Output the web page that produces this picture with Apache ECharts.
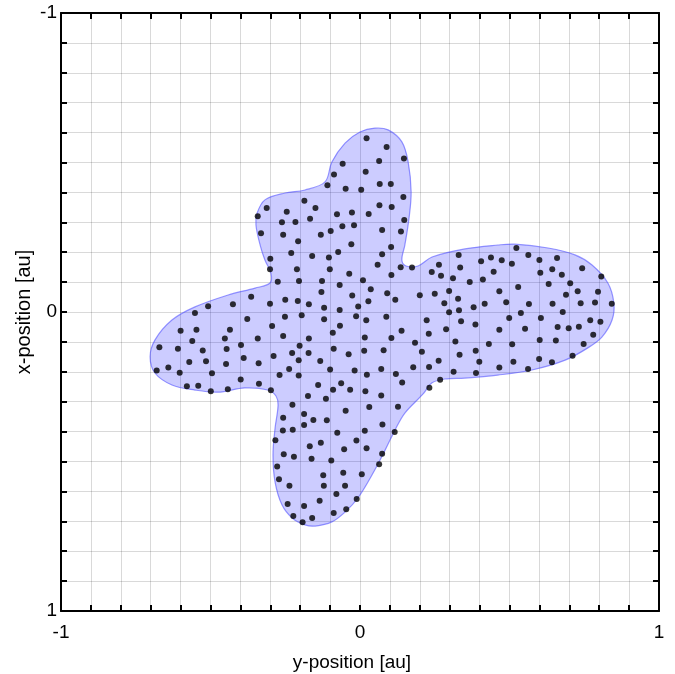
<!DOCTYPE html>
<html>
<head>
<meta charset="utf-8">
<script src="https://cdn.jsdelivr.net/npm/echarts@6/dist/echarts.min.js"></script>
<style>
html,body{margin:0;padding:0;background:#fff;}
#chart{width:675px;height:674px;}
</style>
</head>
<body>
<div id="chart"></div>
<script>
// Tick labels shown on the axes
const xTickLabels = [-1, 0, 1];
const yTickLabels = [-1, 0, 1];

// Region boundary (data units): horizontal value (y-position), vertical value (x-position)
const blobH = [0.050,0.094,0.140,0.161,0.171,0.164,0.150,0.140,0.154,0.194,0.241,0.351,0.461,0.518,0.629,0.719,0.776,0.829,0.849,0.843,0.809,0.762,0.686,0.575,0.461,0.351,0.284,0.241,0.211,0.150,0.117,0.084,0.040,-0.007,-0.050,-0.094,-0.150,-0.184,-0.227,-0.261,-0.284,-0.291,-0.284,-0.274,-0.281,-0.308,-0.385,-0.475,-0.552,-0.629,-0.686,-0.702,-0.686,-0.629,-0.552,-0.441,-0.351,-0.301,-0.298,-0.318,-0.334,-0.348,-0.344,-0.318,-0.251,-0.184,-0.117,-0.094,-0.050,0.000];
const blobV = [-0.615,-0.609,-0.569,-0.502,-0.401,-0.314,-0.224,-0.174,-0.154,-0.154,-0.184,-0.211,-0.224,-0.227,-0.214,-0.191,-0.157,-0.097,-0.030,0.027,0.084,0.120,0.161,0.194,0.211,0.221,0.224,0.237,0.274,0.338,0.395,0.462,0.545,0.622,0.669,0.702,0.716,0.712,0.689,0.645,0.569,0.478,0.388,0.311,0.281,0.261,0.254,0.268,0.261,0.244,0.204,0.150,0.094,0.027,-0.017,-0.057,-0.080,-0.097,-0.130,-0.174,-0.224,-0.291,-0.331,-0.375,-0.398,-0.408,-0.435,-0.502,-0.565,-0.602];

// Sample points (data units)
const ptsH = [-0.186,-0.312,-0.342,-0.245,-0.261,-0.216,-0.331,-0.257,-0.207,-0.230,-0.300,
0.022,0.089,0.147,0.064,-0.058,0.019,-0.087,-0.109,-0.048,0.004,0.066,0.103,0.145,-0.149,0.065,0.106,-0.077,-0.027,0.029,-0.167,0.148,-0.059,-0.020,-0.131,-0.098,0.074,0.137,-0.029,0.104,-0.160,-0.104,-0.073,0.074,0.330,
0.523,0.438,0.474,0.405,0.563,0.600,0.659,0.508,
0.059,0.136,0.174,0.264,0.335,-0.101,-0.036,0.105,0.240,0.271,0.311,-0.127,-0.068,0.010,0.036,-0.129,-0.026,0.091,0.200,0.250,0.298,-0.171,0.028,0.118,0.328,-0.120,-0.006,0.282,-0.068,0.331,0.298,-0.120,-0.013,0.021,0.088,0.223,0.338,-0.067,-0.091,0.139,0.230,0.288,-0.171,0.016,0.105,0.184,0.319,-0.088,-0.172,-0.038,0.014,0.079,0.207,0.333,-0.133,0.263,-0.100,-0.018,0.071,0.178,0.231,0.313,0.023,0.120,0.268,-0.140,-0.063,0.141,-0.090,-0.033,0.018,0.232,0.071,-0.174,-0.114,
-0.048,0.031,0.127,-0.187,-0.156,-0.111,-0.187,0.075,-0.076,0.016,0.116,-0.012,-0.168,-0.131,-0.053,0.022,0.074,-0.162,-0.096,0.064,-0.123,-0.056,0.006,-0.121,-0.050,-0.079,-0.187,-0.135,-0.011,-0.088,-0.046,-0.160,
-0.226,-0.257,-0.258,-0.225,-0.283,-0.255,-0.221,-0.277,-0.271,-0.236,-0.242,-0.223,-0.192,
-0.301,-0.211,-0.275,-0.204,-0.364,-0.425,-0.508,-0.301,-0.250,-0.208,-0.552,-0.377,-0.251,-0.195,-0.294,-0.600,-0.547,-0.435,-0.257,-0.452,-0.342,-0.561,-0.671,-0.609,-0.526,-0.446,-0.398,-0.202,-0.227,-0.289,-0.389,-0.571,-0.515,-0.448,-0.339,-0.205,-0.680,-0.641,-0.603,-0.495,-0.237,-0.269,-0.205,-0.399,-0.579,-0.541,-0.338,-0.499,-0.442,-0.298,
0.743,0.447,0.603,0.643,0.675,0.807,0.367,0.411,0.529,0.631,0.703,0.466,0.689,0.728,0.796,0.380,0.417,0.489,0.565,0.644,0.738,0.786,0.842,0.538,0.678,0.499,0.605,0.770,0.804,0.386,0.466,0.552,0.661,0.698,0.732,0.780,0.431,0.509,0.601,0.655,0.748,0.387,0.399,0.513,0.599,0.642,0.711,0.466,0.562,0.388];
const ptsV = [-0.372,-0.348,-0.320,-0.335,-0.300,-0.301,-0.263,-0.258,-0.237,-0.197,-0.178,
-0.581,-0.552,-0.513,-0.505,-0.496,-0.469,-0.460,-0.424,-0.412,-0.409,-0.428,-0.428,-0.385,-0.348,-0.357,-0.351,-0.327,-0.333,-0.328,-0.312,-0.308,-0.287,-0.290,-0.258,-0.271,-0.274,-0.269,-0.227,-0.217,-0.187,-0.182,-0.201,-0.193,-0.191,
-0.214,-0.182,-0.173,-0.170,-0.191,-0.174,-0.181,-0.161,
-0.158,-0.150,-0.149,-0.158,-0.149,-0.143,-0.128,-0.124,-0.134,-0.121,-0.113,-0.104,-0.090,-0.106,-0.076,-0.067,-0.055,-0.063,-0.056,-0.061,-0.070,-0.026,-0.036,-0.041,-0.044,-0.014,-0.018,-0.029,-0.007,-0.006,0.001,0.024,0.014,0.028,0.016,0.028,0.031,0.046,0.069,0.063,0.073,0.058,0.089,0.085,0.087,0.103,0.099,0.123,0.137,0.141,0.130,0.128,0.133,0.143,0.164,0.163,0.192,0.196,0.191,0.185,0.184,0.200,0.210,0.207,0.227,0.244,0.238,0.236,0.260,0.260,0.265,0.253,0.279,0.281,0.290,
0.330,0.318,0.317,0.341,0.361,0.362,0.378,0.376,0.404,0.397,0.401,0.430,0.449,0.437,0.459,0.456,0.474,0.491,0.497,0.509,0.546,0.538,0.543,0.581,0.581,0.609,0.649,0.631,0.625,0.672,0.660,0.689,
0.310,0.354,0.396,0.394,0.429,0.476,0.484,0.517,0.559,0.581,0.642,0.682,0.703,
-0.143,-0.143,-0.101,-0.104,-0.051,-0.026,-0.019,-0.028,-0.041,-0.037,0.003,0.023,0.016,0.011,0.047,0.063,0.059,0.059,0.080,0.089,0.089,0.097,0.118,0.123,0.129,0.124,0.110,0.113,0.137,0.147,0.154,0.167,0.165,0.174,0.171,0.161,0.196,0.186,0.203,0.205,0.191,0.211,0.212,0.226,0.248,0.247,0.240,0.265,0.258,0.262,
-0.146,-0.135,-0.131,-0.143,-0.125,-0.119,-0.100,-0.109,-0.084,-0.094,-0.096,-0.069,-0.058,-0.069,-0.068,-0.016,-0.028,-0.033,-0.027,-0.028,-0.029,-0.032,-0.028,0.003,0.000,0.020,0.020,0.028,0.033,0.042,0.059,0.056,0.050,0.054,0.049,0.076,0.107,0.108,0.094,0.095,0.107,0.130,0.166,0.166,0.157,0.168,0.146,0.186,0.191,0.204];

const FONT = 'Liberation Sans, Arial, sans-serif';
function labelFmt(ticks) {
  return function (v) {
    for (const t of ticks) { if (Math.abs(v - t) < 1e-6) return String(t); }
    return '';
  };
}
const axisLineStyle = { show: true, onZero: false, lineStyle: { color: '#000', width: 2 } };
const tickStyle = { show: true, inside: true, length: 6, lineStyle: { color: '#000', width: 2 } };
const gridLine = { show: true, lineStyle: { color: 'rgba(0,0,0,0.15)', width: 1 } };

const chart = echarts.init(document.getElementById('chart'), null, { renderer: 'canvas' });
chart.setOption({
  animation: false,
  backgroundColor: '#fff',
  grid: { left: 61, top: 13, width: 598, height: 598, containLabel: false, outerBoundsMode: 'none' },
  xAxis: [
    { type: 'value', min: -1, max: 1, interval: 0.1, position: 'bottom',
      axisLine: axisLineStyle, axisTick: tickStyle, splitLine: gridLine,
      axisLabel: { formatter: labelFmt(xTickLabels), fontSize: 19, color: '#000', margin: 12, fontFamily: FONT },
      name: 'y-position [au]', nameLocation: 'middle', nameGap: 42, nameMoveOverlap: false,
      nameTextStyle: { fontSize: 19, color: '#000', fontFamily: FONT, padding: [0, 16, 0, 0] } },
    { type: 'value', min: -1, max: 1, interval: 0.1, position: 'top',
      axisLine: axisLineStyle, axisTick: tickStyle, splitLine: { show: false }, axisLabel: { show: false } }
  ],
  yAxis: [
    { type: 'value', min: -1, max: 1, interval: 0.1, inverse: true, position: 'left',
      axisLine: axisLineStyle, axisTick: tickStyle, splitLine: gridLine,
      axisLabel: { formatter: labelFmt(yTickLabels), fontSize: 19, color: '#000', margin: 4, fontFamily: FONT },
      name: 'x-position [au]', nameLocation: 'middle', nameGap: 27, nameRotate: 90, nameMoveOverlap: false,
      nameTextStyle: { fontSize: 20, color: '#000', fontFamily: FONT } },
    { type: 'value', min: -1, max: 1, interval: 0.1, inverse: true, position: 'right',
      axisLine: axisLineStyle, axisTick: tickStyle, splitLine: { show: false }, axisLabel: { show: false } }
  ],
  series: [
    { type: 'custom', xAxisIndex: 0, yAxisIndex: 0, data: [[0, 0]], silent: true, z: 2,
      renderItem: function (params, api) {
        const pts = blobH.map((h, i) => api.coord([h, blobV[i]]));
        return { type: 'polygon', shape: { points: pts, smooth: 0.35 },
          style: { fill: 'rgba(0,0,255,0.2)', stroke: 'rgba(70,70,255,0.55)', lineWidth: 1.2 } };
      } },
    { type: 'scatter', xAxisIndex: 0, yAxisIndex: 0, z: 3,
      data: ptsH.map((h, i) => [h, ptsV[i]]),
      symbol: 'circle', symbolSize: 6, itemStyle: { color: '#000' } }
  ]
});
</script>
</body>
</html>
